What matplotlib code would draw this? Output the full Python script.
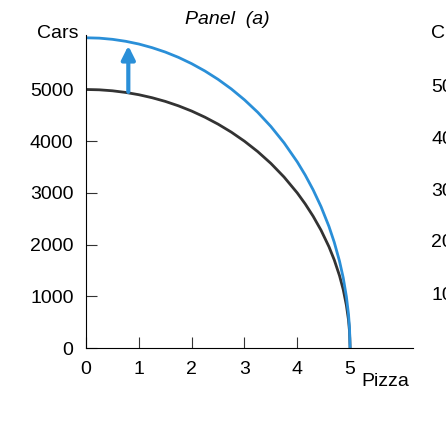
import matplotlib
matplotlib.use("Agg")
import matplotlib.pyplot as plt

plt.rcParams['font.family'] = ['Liberation Sans', 'DejaVu Sans']

pizza = [0, 0.25, 0.5, 0.75, 1, 1.25, 1.5, 1.75, 2, 2.25, 2.5, 2.75, 3, 3.25, 3.5, 3.75,
         4, 4.15, 4.3, 4.45, 4.6, 4.7, 4.8, 4.87, 4.93, 4.97, 4.99, 5]
cars_old = [5000, 4994, 4975, 4943, 4899, 4841, 4770, 4684, 4583, 4465, 4330, 4176, 4000,
            3800, 3571, 3307, 3000, 2788, 2550, 2279, 1960, 1706, 1400, 1133, 829, 546, 316, 0]
cars_new = [6000, 5993, 5970, 5932, 5879, 5809, 5724, 5621, 5499, 5358, 5196, 5011, 4800,
            4560, 4285, 3968, 3600, 3346, 3060, 2735, 2352, 2047, 1680, 1360, 995, 655, 379, 0]
xticks = [0, 1, 2, 3, 4, 5]
yticks = [0, 1000, 2000, 3000, 4000, 5000]
arrow_x = 0.8
arrow_from, arrow_to = 4900, 5900

fig = plt.figure(figsize=(4.46, 4.24), dpi=100)
ax = fig.add_axes([0.193, 0.179, 0.734, 0.738])
ax.plot(pizza, cars_old, color='#333333', lw=2)
ax.plot(pizza, cars_new, color='#2a8fd8', lw=2)
ax.annotate('', xy=(arrow_x, arrow_to), xytext=(arrow_x, arrow_from),
            arrowprops=dict(arrowstyle='-|>', color='#2a8fd8', lw=3, mutation_scale=20))
ax.set_xlim(0, 6.2)
ax.set_ylim(0, 6050)
for s in ['top', 'right']:
    ax.spines[s].set_visible(False)
ax.set_xticks(xticks)
ax.set_yticks(yticks)
ax.tick_params(direction='in', labelsize=14, length=8, color='#333333', pad=9)
ax.set_xticklabels([str(v) for v in xticks])
ax.set_yticklabels([str(v) for v in yticks])
fig.text(0.81, 0.09, 'Pizza', fontsize=14)
fig.text(0.13, 0.92, 'Cars', fontsize=14, ha='center', va='center')
fig.text(0.51, 0.955, 'Panel  (a)', fontsize=14, style='italic', ha='center', va='center')
# partially visible neighbouring panel
fig.text(0.967, 0.92, 'C', fontsize=14, va='center')
for v, yy in zip(['50', '40', '30', '20', '10'], [88, 139, 191, 243, 295]):
    fig.text(0.967, 1 - yy / 424, v, fontsize=14, va='center')
fig.savefig('out.png', dpi=100)
